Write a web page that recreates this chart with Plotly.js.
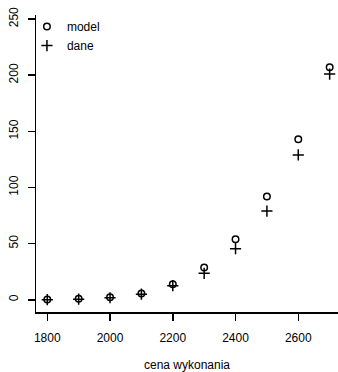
<!DOCTYPE html>
<html>
<head>
<meta charset="utf-8">
<script src="https://cdn.plot.ly/plotly-3.0.1.min.js"></script>
<style>html,body{margin:0;padding:0;background:#fff;}</style>
</head>
<body>
<div id="chart" style="width:338px;height:372px;"></div>
<script>
var cena = [1800, 1900, 2000, 2100, 2200, 2300, 2400, 2500, 2600, 2700];
var model = [0.3, 0.8, 2.2, 5.5, 13.8, 28.7, 54, 92, 143, 207];
var dane = [0.1, 0.5, 1.8, 5.0, 12.5, 23.5, 45.5, 79, 129, 201];
var xTitle = "cena wykonania";

var font = {family: "Liberation Sans, Arial, sans-serif", size: 12, color: "#000"};

var traces = [
  {x: cena, y: model, name: "model", type: "scatter", mode: "markers",
   marker: {symbol: "circle-open", size: 6.5, color: "#000", line: {width: 1.5, color: "#000"}}},
  {x: cena, y: dane, name: "dane", type: "scatter", mode: "markers",
   marker: {symbol: "cross-thin-open", size: 8, color: "#000", line: {width: 1.5, color: "#000"}}}
];

var layout = {
  width: 338, height: 372,
  margin: {l: 36, r: 0, t: 15, b: 60},
  paper_bgcolor: "#fff", plot_bgcolor: "#fff",
  font: font,
  showlegend: true,
  legend: {x: -0.03, y: 1.01, xanchor: "left", yanchor: "top", bgcolor: "rgba(0,0,0,0)",
           font: font, itemwidth: 30, tracegroupgap: 0},
  xaxis: {range: [1764, 2726.6], tick0: 1800, dtick: 200, showgrid: false, zeroline: false,
          showline: true, linecolor: "#000", linewidth: 1.5, ticks: "outside", ticklen: 7,
          tickwidth: 1.5, tickcolor: "#000", tickfont: font, ticklabelstandoff: 7,
          title: {text: xTitle, font: font, standoff: 22}},
  yaxis: {range: [-10.9, 253.6], tick0: 0, dtick: 50, showgrid: false, zeroline: false,
          showline: true, linecolor: "#000", linewidth: 1.5, ticks: "outside", ticklen: 7,
          tickwidth: 1.5, tickcolor: "#000", tickfont: font, tickangle: -90, ticklabelstandoff: 5}
};

Plotly.newPlot("chart", traces, layout, {displayModeBar: false, staticPlot: true});
</script>
</body>
</html>
